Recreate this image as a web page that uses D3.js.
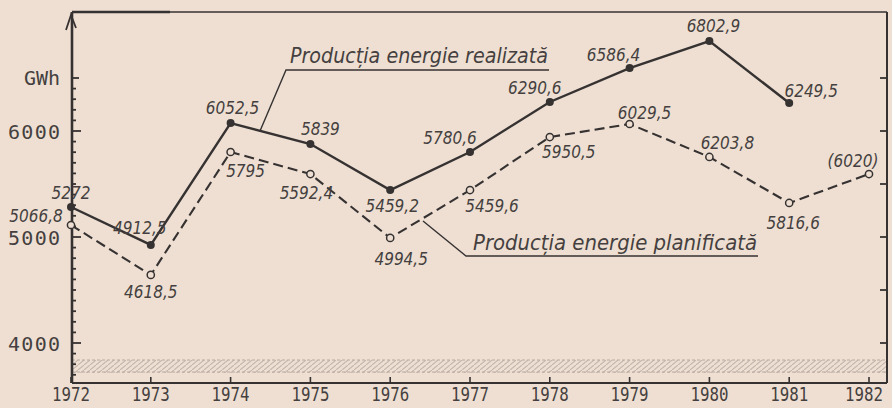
<!DOCTYPE html>
<html>
<head>
<meta charset="utf-8">
<script src="https://cdn.jsdelivr.net/npm/d3@7"></script>
<style>
  body { margin: 0; background: #eedfd2; }
  svg { display: block; }
  .lbl { font-family: "DejaVu Sans Condensed", "DejaVu Sans", sans-serif; font-stretch: condensed; font-style: italic; font-size: 17px; fill: #453f3f; }
  .tick { font-family: "DejaVu Sans Mono", monospace; font-size: 20px; fill: #453f3f; }
</style>
</head>
<body>
<svg id="chart" width="892" height="408"></svg>
<script>
// years on the x axis
var years = [1972, 1973, 1974, 1975, 1976, 1977, 1978, 1979, 1980, 1981, 1982];
// realized production, GWh (as plotted, 1972-1981)
var realizedValues = [5283, 4925, 6075, 5877, 5443, 5802, 6274, 6594, 6849, 6264];
var realizedLabels = ["5272", "4912,5", "6052,5", "5839", "5459,2", "5780,6", "6290,6", "6586,4", "6802,9", "6249,5"];
// planned production, GWh (as plotted, 1972-1982)
var plannedValues = [5113, 4642, 5802, 5594, 4991, 5443, 5943, 6066, 5755, 5321, 5594];
var plannedLabels = ["5066,8", "4618,5", "5795", "5592,4", "4994,5", "5459,6", "5950,5", "6029,5", "6203,8", "5816,6", "(6020)"];
var yTicks = [4000, 5000, 6000];
var unitLabel = "GWh";
var realizedName = "Producția energie realizată";
var plannedName = "Producția energie planificată";

// label placement relative to each point (layout only)
var realizedOffsets = [[0,-8],[-11,-11],[2,-9],[10,-9],[2,22],[-20,-8],[-15,-8],[-16,-7],[4,-9],[22,-6]];
var plannedOffsets = [[-35,-3],[0,23],[15,25],[-4,25],[11,27],[22,22],[19,21],[15,-5],[18,-8],[4,26],[-16,-7]];

var ink = "#363232";
var bg = "#eedfd2";

var svg = d3.select("#chart");

var x = d3.scaleLinear().domain([1972, 1982]).range([71, 869]);
var y = d3.scaleLinear().domain([4000, 6000]).range([343, 131]);

var pLeft = 72, pRight = 887, pTop = 12, pBottom = 383;

// hatched break band
var defs = svg.append("defs");
var pat = defs.append("pattern")
	.attr("id", "hatch")
	.attr("patternUnits", "userSpaceOnUse")
	.attr("width", 6).attr("height", 5);
pat.append("path")
	.attr("d", "M0,5 L6,0")
	.attr("stroke", "#c2b4ac").attr("stroke-width", 1.1);

svg.append("rect")
	.attr("x", pLeft).attr("y", 360)
	.attr("width", pRight - pLeft).attr("height", 13)
	.attr("fill", "url(#hatch)");
[360, 372].forEach(function(yy) {
	svg.append("line")
		.attr("x1", pLeft).attr("x2", pRight)
		.attr("y1", yy).attr("y2", yy)
		.attr("stroke", "#b8aaa2").attr("stroke-width", 1)
		.attr("stroke-dasharray", "3,2");
});

// frame
svg.append("line").attr("x1", pLeft).attr("x2", pRight).attr("y1", pTop).attr("y2", pTop)
	.attr("stroke", ink).attr("stroke-width", 1.6);
svg.append("line").attr("x1", pLeft).attr("x2", 170).attr("y1", pTop).attr("y2", pTop)
	.attr("stroke", ink).attr("stroke-width", 2.6);
svg.append("line").attr("x1", pRight).attr("x2", pRight).attr("y1", pTop).attr("y2", pBottom)
	.attr("stroke", ink).attr("stroke-width", 2);
svg.append("line").attr("x1", pLeft).attr("x2", pRight).attr("y1", pBottom).attr("y2", pBottom)
	.attr("stroke", ink).attr("stroke-width", 2.2);
svg.append("line").attr("x1", pLeft).attr("x2", pLeft).attr("y1", pTop).attr("y2", pBottom)
	.attr("stroke", ink).attr("stroke-width", 2.6);
// arrow on y axis
svg.append("path")
	.attr("d", "M66,30 L71,15 L76,28")
	.attr("fill", "none").attr("stroke", ink).attr("stroke-width", 1.8);

// left axis ticks
d3.range(3700, 6501, 100).forEach(function(v) {
	var len = (v % 1000 === 0) ? 9 : (v === 6500 ? 7 : 4);
	svg.append("line")
		.attr("x1", pLeft).attr("x2", pLeft + len)
		.attr("y1", y(v)).attr("y2", y(v))
		.attr("stroke", ink).attr("stroke-width", 1.8);
});
// right border ticks
d3.range(4000, 6501, 500).forEach(function(v) {
	svg.append("line")
		.attr("x1", pRight - 7).attr("x2", pRight)
		.attr("y1", y(v)).attr("y2", y(v))
		.attr("stroke", ink).attr("stroke-width", 1.8);
});

svg.selectAll(".ylab")
	.data(yTicks)
	.enter()
	.append("text")
	.attr("class", "tick")
	.attr("x", 60).attr("y", function(d) { return y(d) + 8; })
	.attr("text-anchor", "end")
	.attr("textLength", 52).attr("lengthAdjust", "spacing")
	.text(function(d) { return d; });

svg.append("text")
	.attr("class", "tick")
	.attr("x", 60).attr("y", 85)
	.attr("text-anchor", "end")
	.text(unitLabel);

// x ticks and labels
svg.selectAll(".xt")
	.data(years)
	.enter()
	.append("line")
	.attr("x1", function(d) { return x(d); }).attr("x2", function(d) { return x(d); })
	.attr("y1", pBottom - 6).attr("y2", pBottom)
	.attr("stroke", ink).attr("stroke-width", 1.6);

svg.selectAll(".xlab")
	.data(years)
	.enter()
	.append("text")
	.attr("class", "tick")
	.style("font-size", "19px")
	.attr("x", function(d) { return Math.min(x(d) - 19, 845); })
	.attr("y", 401)
	.attr("textLength", 38).attr("lengthAdjust", "spacingAndGlyphs")
	.text(function(d) { return d; });

// lines
var realized = realizedValues.map(function(v, i) { return {year: years[i], value: v, label: realizedLabels[i], off: realizedOffsets[i]}; });
var planned = plannedValues.map(function(v, i) { return {year: years[i], value: v, label: plannedLabels[i], off: plannedOffsets[i]}; });

var line = d3.line()
	.x(function(d) { return x(d.year); })
	.y(function(d) { return y(d.value); });

// annotation leaders
svg.append("path")
	.attr("d", "M260,131 L286,70 L549,70")
	.attr("fill", "none").attr("stroke", ink).attr("stroke-width", 1.4);
svg.append("path")
	.attr("d", "M423,221 L466,256 L758,256")
	.attr("fill", "none").attr("stroke", ink).attr("stroke-width", 1.4);

svg.append("path")
	.datum(planned)
	.attr("d", line)
	.attr("fill", "none")
	.attr("stroke", ink).attr("stroke-width", 2.1)
	.attr("stroke-dasharray", "10,5");

svg.append("path")
	.datum(realized)
	.attr("d", line)
	.attr("fill", "none")
	.attr("stroke", ink).attr("stroke-width", 2.4);

svg.selectAll(".pp")
	.data(planned)
	.enter()
	.append("circle")
	.attr("cx", function(d) { return x(d.year); })
	.attr("cy", function(d) { return y(d.value); })
	.attr("r", 3.6)
	.attr("fill", bg).attr("stroke", ink).attr("stroke-width", 1.5);

svg.selectAll(".rp")
	.data(realized)
	.enter()
	.append("circle")
	.attr("cx", function(d) { return x(d.year); })
	.attr("cy", function(d) { return y(d.value); })
	.attr("r", 4)
	.attr("fill", ink);

// value labels
svg.selectAll(".rl")
	.data(realized.concat(planned))
	.enter()
	.append("text")
	.attr("class", "lbl")
	.attr("text-anchor", "middle")
	.attr("x", function(d) { return x(d.year) + d.off[0]; })
	.attr("y", function(d) { return y(d.value) + d.off[1]; })
	.text(function(d) { return d.label; });

// series names
svg.append("text")
	.attr("class", "lbl")
	.style("font-size", "22px")
	.attr("x", 290).attr("y", 63)
	.attr("textLength", 258).attr("lengthAdjust", "spacingAndGlyphs")
	.text(realizedName);
svg.append("text")
	.attr("class", "lbl")
	.style("font-size", "22px")
	.attr("x", 473).attr("y", 250)
	.attr("textLength", 284).attr("lengthAdjust", "spacingAndGlyphs")
	.text(plannedName);
</script>
</body>
</html>
